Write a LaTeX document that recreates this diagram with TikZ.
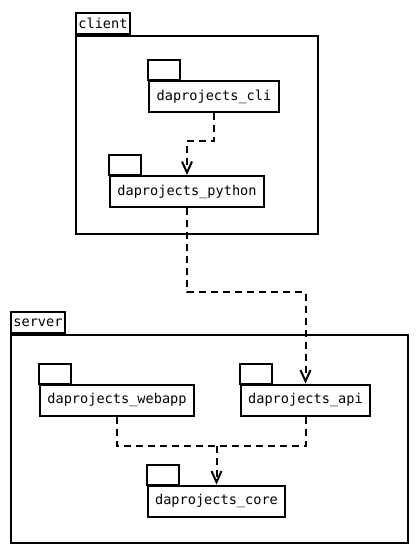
\documentclass[tikz,border=0pt]{standalone}
\usepackage{fontspec}
\setmonofont{DejaVu Sans Mono}
\usetikzlibrary{arrows.meta,calc}

\begin{document}
\begin{tikzpicture}[x=1pt, y=-1pt,
    pkg/.style={draw, line width=2pt, fill=white, font=\ttfamily\fontsize{13.6}{15}\selectfont,
        minimum height=31pt, inner xsep=3pt, inner ysep=0pt},
    frame/.style={draw, line width=2pt, inner sep=0pt},
    tablabel/.style={draw, line width=2pt, anchor=south west, font=\ttfamily\fontsize{13.6}{15}\selectfont,
        minimum height=21pt, minimum width=54pt, inner xsep=2pt, inner ysep=0pt},
    dep/.style={line width=2pt, dash pattern=on 7pt off 5pt},
    deparrow/.style={dep, -{Straight Barb[length=11pt, width=10pt, line width=2pt]}}]
    \useasboundingbox (0,0) rectangle (420,558);

    % Client package
    \node[frame, minimum width=242pt, minimum height=198pt] (client) at (197,135) {};
    \node[tablabel] (clienttab) at (client.north west) {client};

    % Server package
    \node[frame, minimum width=397pt, minimum height=208pt] (server) at (209.5,439) {};
    \node[tablabel] (servertab) at (server.north west) {server};

    % Inner packages
    \node[pkg, minimum width=130pt] (cli) at (214,96.5) {daprojects\_cli};
    \node[pkg, minimum width=154pt] (python) at (187,191.5) {daprojects\_python};
    \node[pkg, minimum width=154pt] (webapp) at (117,400) {daprojects\_webapp};
    \node[pkg, minimum width=129pt] (api) at (305.5,400) {daprojects\_api};
    \node[pkg, minimum width=137pt] (core) at (216.5,501) {daprojects\_core};

    % Tabs on top of each package
    \foreach \p in {cli, python, webapp, api, core}
        \draw[line width=2pt] (\p.north west) rectangle ++(32,-20);

    % Dependencies
    \draw[deparrow] (cli.south) -- ++(0,28) -| (python.north);
    \draw[deparrow] (python.south) -- ++(0,84) -| (api.north);
    \coordinate (join) at (core.north |- 0,446);
    \draw[dep] (webapp.south) |- (join);
    \draw[dep] (api.south) |- (join);
    \draw[deparrow] (join) -- (core.north);
\end{tikzpicture}
\end{document}
